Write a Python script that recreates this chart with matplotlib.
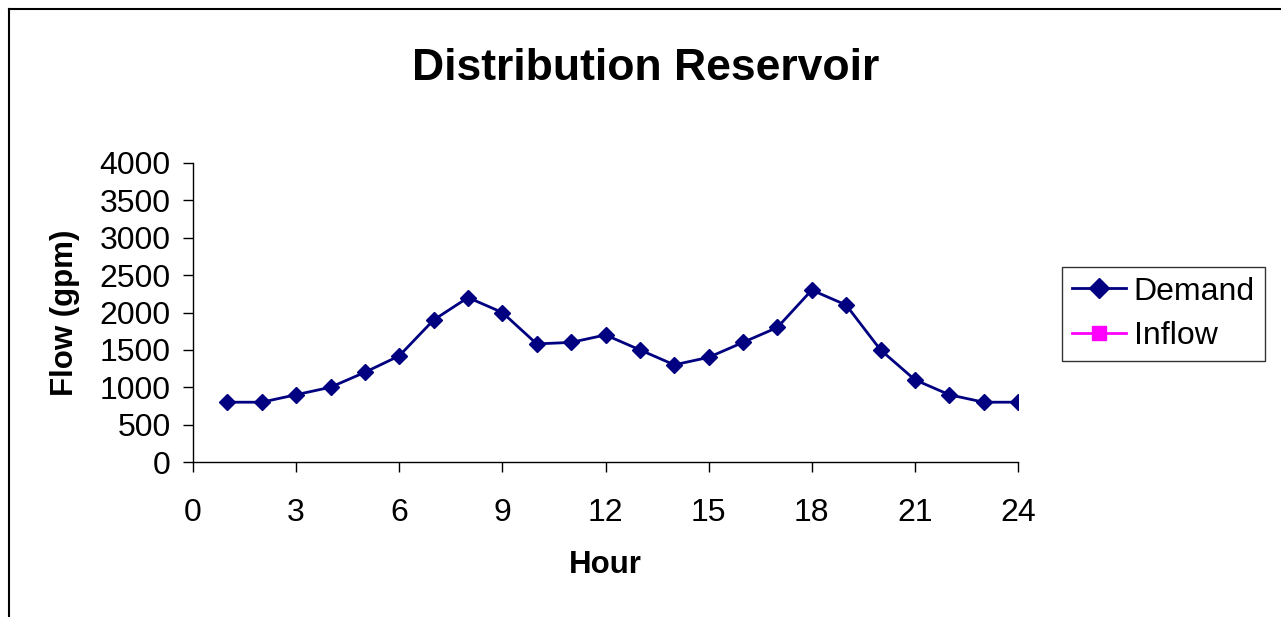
import numpy as np
import matplotlib
matplotlib.use("Agg")
from matplotlib import pyplot as plt
from matplotlib.lines import Line2D

plt.rcParams['font.family'] = ['Liberation Sans', 'DejaVu Sans']

# data
hours = [1, 2, 3, 4, 5, 6, 7, 8, 9, 10, 11, 12,
         13, 14, 15, 16, 17, 18, 19, 20, 21, 22, 23, 24]
demand = [800, 800, 900, 1000, 1200, 1420, 1900, 2200, 2000, 1580, 1600, 1700,
          1500, 1300, 1400, 1600, 1800, 2300, 2100, 1500, 1100, 900, 800, 800]
inflow_hours = []
inflow = []  # no inflow points plotted in the original
x_ticks = [0, 3, 6, 9, 12, 15, 18, 21, 24]
y_ticks = [0, 500, 1000, 1500, 2000, 2500, 3000, 3500, 4000]

W, H = 1281, 617
fig = plt.figure(figsize=(W / 100, H / 100), dpi=100)

# chart area border (cropped: only left and top edges visible)
fig.add_artist(Line2D([8.5 / W, 8.5 / W], [0, 1 - 9 / H], transform=fig.transFigure,
                      color='black', lw=1.5))
fig.add_artist(Line2D([8.5 / W, 1], [1 - 9 / H, 1 - 9 / H], transform=fig.transFigure,
                      color='black', lw=1.5))

ax = fig.add_axes([193 / W, 1 - 462 / H, (1018 - 193) / W, (462 - 163) / H])
ax.plot(hours, demand, color='#000080', marker='D', markersize=8.5, lw=2, label='Demand')
ax.plot(inflow_hours, inflow, color='#FF00FF', marker='s', markersize=8.5, lw=2, label='Inflow')

ax.set_xlim(0, 24)
ax.set_ylim(0, 4000)
ax.set_xticks(x_ticks)
ax.set_yticks(y_ticks)
ax.tick_params(labelsize=23, direction='out', length=7, width=1)
ax.tick_params(axis='x', pad=19)
ax.tick_params(axis='y', pad=9)
for s in ['top', 'right']:
    ax.spines[s].set_visible(False)
ax.spines['left'].set_linewidth(1)
ax.spines['bottom'].set_linewidth(1)

ax.set_xlabel('Hour', fontsize=22.5, fontweight='bold', labelpad=16)
ax.set_ylabel('Flow (gpm)', fontsize=22.5, fontweight='bold', labelpad=14)

fig.text(646 / W, 1 - 68 / H, 'Distribution Reservoir', fontsize=32, fontweight='bold',
         ha='center', va='center')

leg = fig.legend(loc='upper left', bbox_to_anchor=(1062 / W, 1 - 267 / H),
                 fontsize=23, frameon=True, fancybox=False, edgecolor='black',
                 handlelength=1.7, handletextpad=0.25, borderpad=0.3, labelspacing=0.45,
                 borderaxespad=0, markerscale=1.2)
leg.get_frame().set_linewidth(1)

fig.savefig('out.png', dpi=100)
